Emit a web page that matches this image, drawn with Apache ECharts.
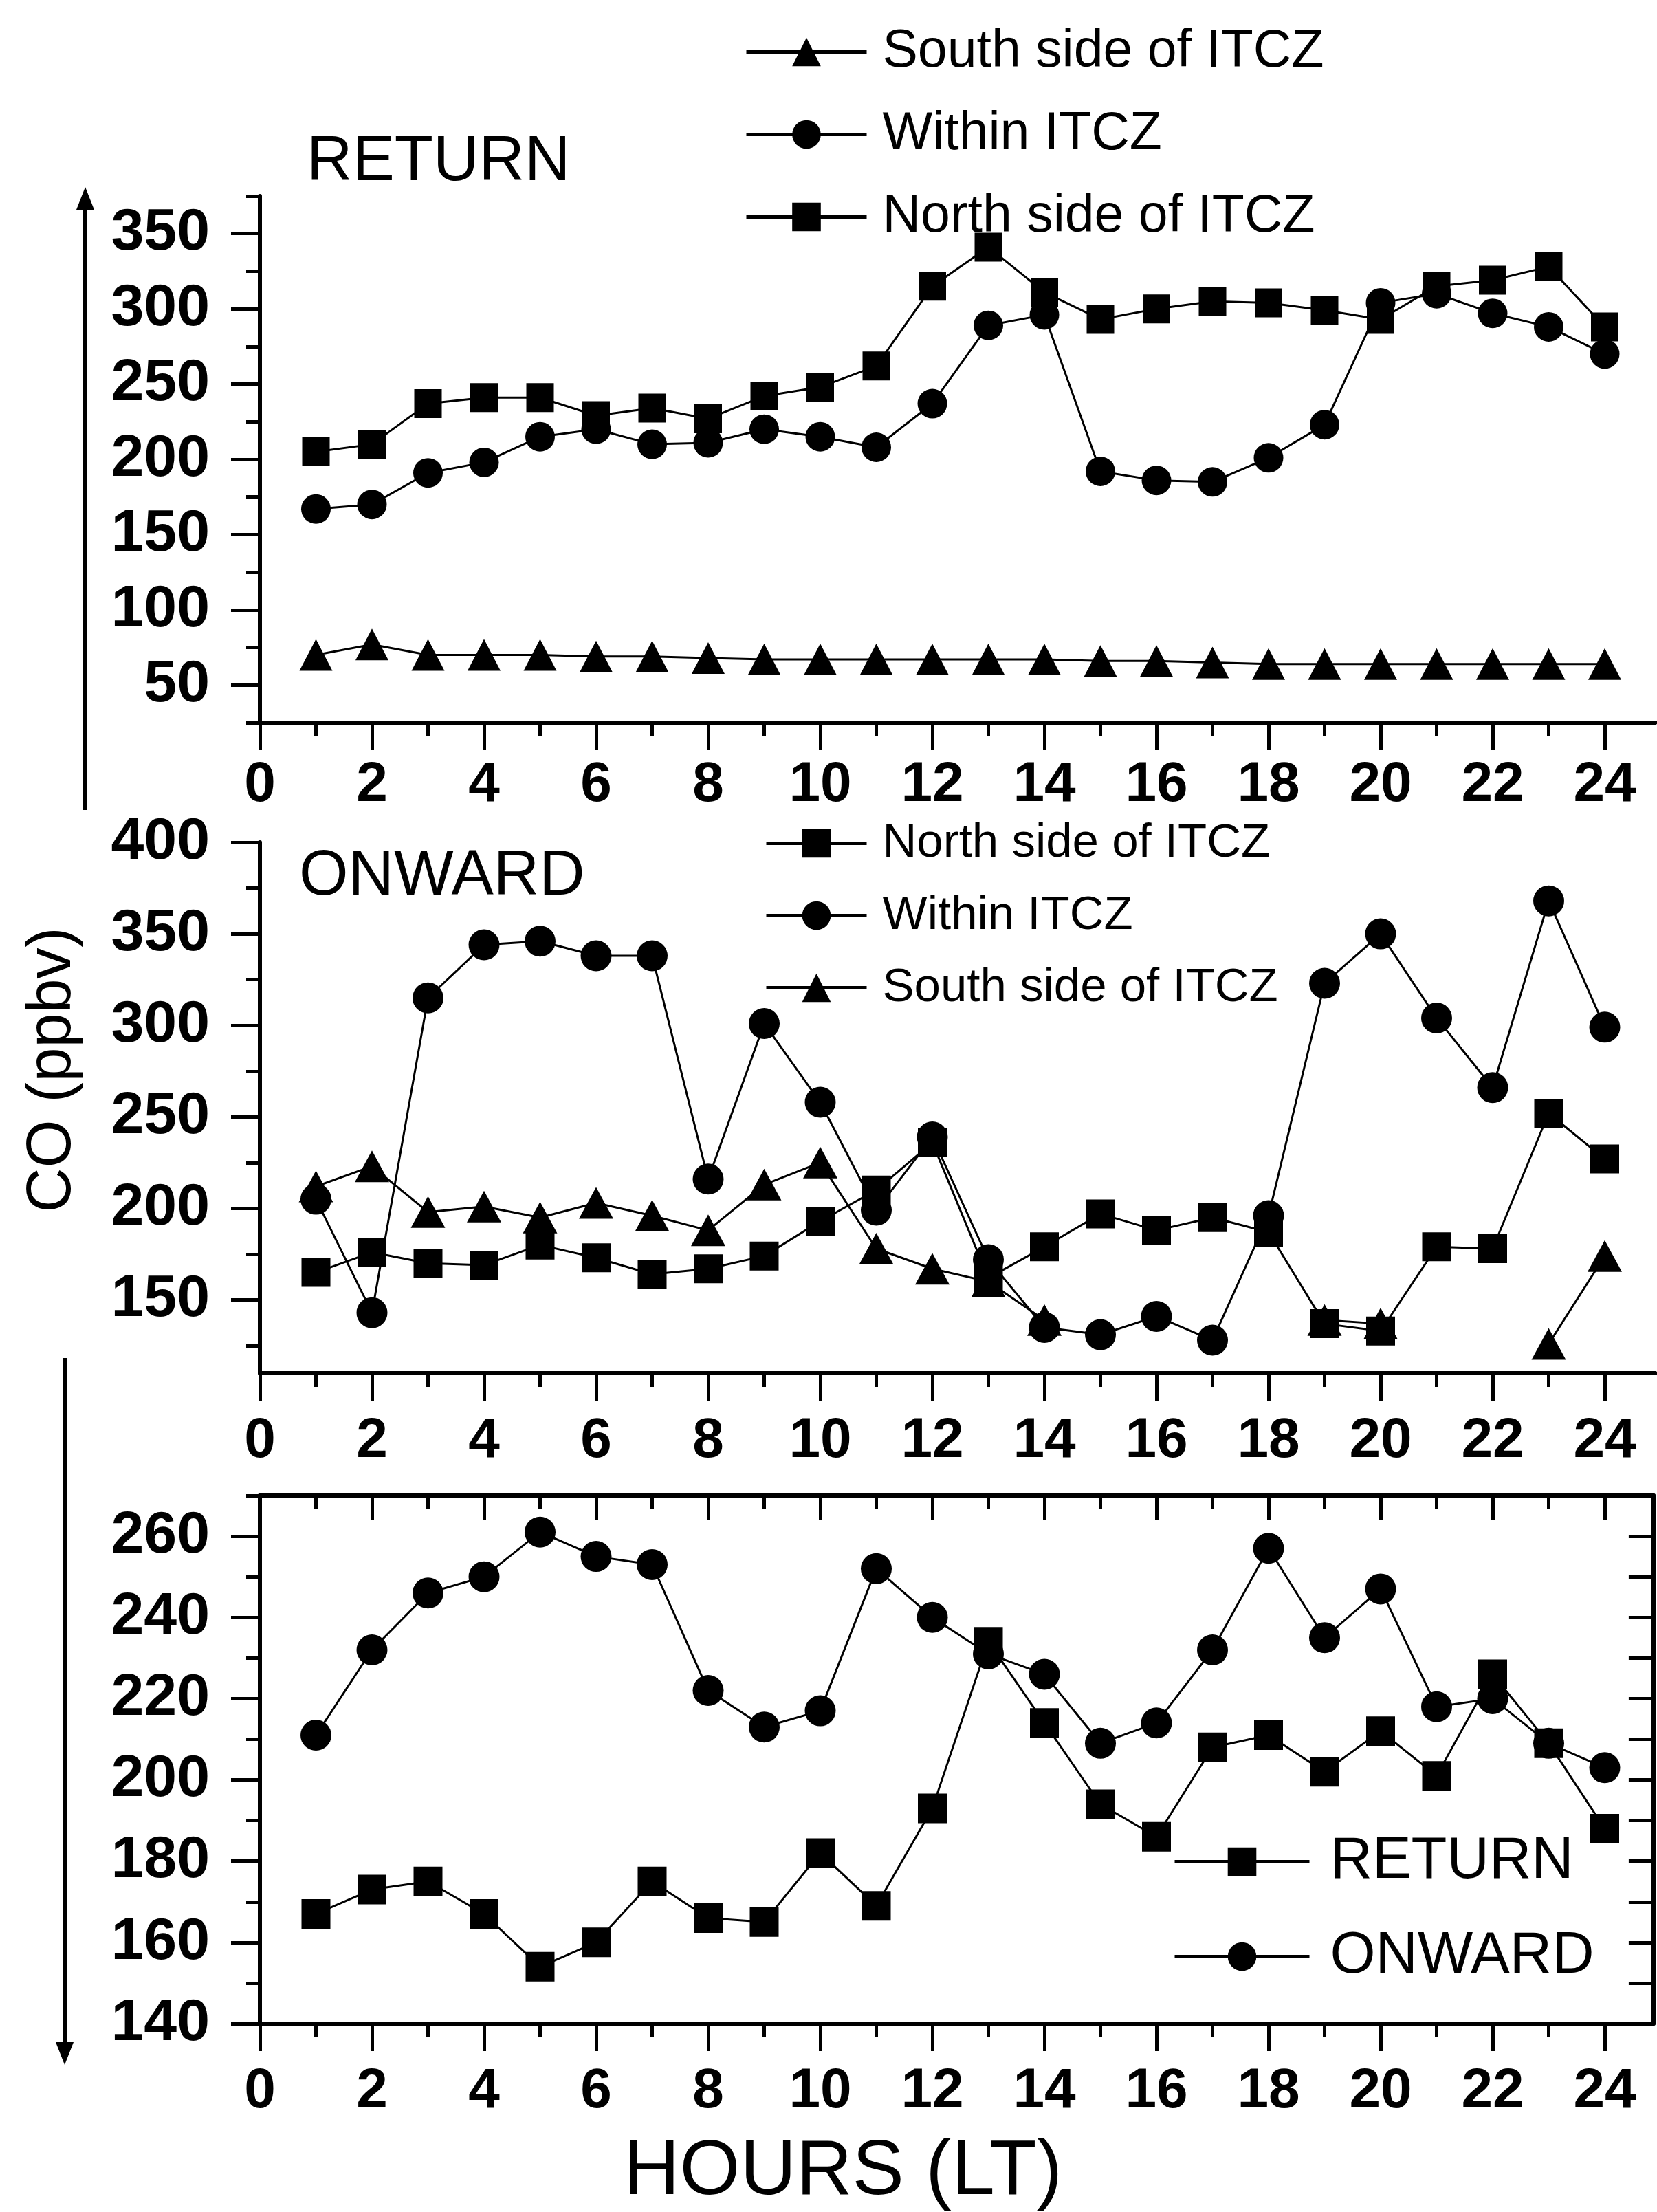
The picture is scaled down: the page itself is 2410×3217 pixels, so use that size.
<!DOCTYPE html>
<html>
<head>
<meta charset="utf-8">
<title>CO diurnal variation - RETURN / ONWARD</title>
<script src="https://cdn.jsdelivr.net/npm/echarts@6.0.0/dist/echarts.min.js"></script>
<style>
  html, body { margin: 0; padding: 0; background: #fff; }
  #chart { width: 2410px; height: 3217px; }
</style>
</head>
<body>
<div id="chart"></div>
<script>

// hours of the day (LT)
const hours = [1, 2, 3, 4, 5, 6, 7, 8, 9, 10, 11, 12, 13, 14, 15, 16, 17, 18, 19, 20, 21, 22, 23, 24];

// RETURN leg (top panel)
const returnSouth  = [70, 77, 70, 70, 70, 69, 69, 68, 67, 67, 67, 67, 67, 67, 66, 66, 65, 64, 64, 64, 64, 64, 64, 64];
const returnWithin = [167, 170, 191, 198, 215, 220, 210, 211, 220, 215, 208, 237, 289, 296, 192, 186, 185, 201, 223, 304, 310, 297, 288, 270];
const returnNorth  = [205, 210, 237, 241, 241, 229, 234, 227, 242, 248, 262, 315, 341, 311, 293, 300, 305, 304, 299, 293, 315, 319, 328, 288];

// ONWARD leg (middle panel), null = no measurement
const onwardNorth  = [165, 176, 170, 169, 180, 173, 164, 167, 174, 193, 210, 236, 162, 179, 197, 188, 195, 187, 137, 133, 179, 178, 252, 227];
const onwardWithin = [205, 143, 315, 344, 346, 338, 338, 216, 301, 258, 199, 239, 172, 135, 131, 141, 128, 196, 323, 350, 304, 266, 368, 299];
const onwardSouth  = [212, 223, 198, 201, 195, 203, 196, 188, 213, 225, 178, 167, 160, 139, null, null, null, null, 139, 137, null, null, 126, 174];

// whole-leg averages (bottom panel)
const meanReturn = [167, 173, 175, 167, 154, 160, 175, 166, 165, 182, 169, 193, 234, 214, 194, 186, 208, 211, 202, 212, 201, 226, 209, 188];
const meanOnward = [211, 232, 246, 250, 261, 255, 253, 222, 213, 217, 252, 240, 231, 226, 209, 214, 232, 257, 235, 247, 218, 220, 209, 203];

// tick labels
const hourTicks = [0, 2, 4, 6, 8, 10, 12, 14, 16, 18, 20, 22, 24];
const hourMinorTicks = [1, 3, 5, 7, 9, 11, 13, 15, 17, 19, 21, 23];
const returnTicks = [50, 100, 150, 200, 250, 300, 350];
const onwardTicks = [150, 200, 250, 300, 350, 400];
const meanTicks = [140, 160, 180, 200, 220, 240, 260];

const FONT = "Liberation Sans";
const HOUR_PX = 81.5;
const LEFT = 378;

function pairs(values) {
    return hours.map(function (h, i) { return [h, values[i]]; });
}

function lineSeries(name, values, symbol, size, axisIndex) {
    return {
        name: name,
        type: "line",
        xAxisIndex: axisIndex,
        yAxisIndex: axisIndex,
        data: pairs(values),
        symbol: symbol,
        symbolSize: size,
        connectNulls: false,
        showAllSymbol: true,
        animation: false,
        lineStyle: { color: "#000", width: 3 },
        itemStyle: { color: "#000" }
    };
}

function xAxes(grid, xMax, margin, position, showLabels, inside) {
    const major = {
        type: "value", gridIndex: grid, position: position, min: 0, max: xMax,
        axisLine: { show: true, onZero: false, lineStyle: { color: "#000", width: 6 } },
        axisTick: { show: true, inside: inside, length: inside ? 36 : 40, customValues: hourTicks,
                    lineStyle: { color: "#000", width: 5 } },
        axisLabel: { show: showLabels, customValues: hourTicks, margin: margin, color: "#000",
                     fontFamily: FONT, fontSize: 82, fontWeight: "bold" },
        splitLine: { show: false }
    };
    const minor = {
        type: "value", gridIndex: grid, position: position, min: 0, max: xMax,
        axisLine: { show: false, onZero: false },
        axisTick: { show: true, inside: inside, length: 20, customValues: hourMinorTicks,
                    lineStyle: { color: "#000", width: 5 } },
        axisLabel: { show: false },
        splitLine: { show: false }
    };
    return [major, minor];
}

function yAxes(grid, min, max, ticks, minorTicks) {
    const major = {
        type: "value", gridIndex: grid, position: "left", min: min, max: max,
        axisLine: { show: true, onZero: false, lineStyle: { color: "#000", width: 6 } },
        axisTick: { show: true, length: 42, customValues: ticks, lineStyle: { color: "#000", width: 5 } },
        axisLabel: { customValues: ticks, margin: 73, color: "#000", fontFamily: FONT,
                     fontSize: 86, fontWeight: "bold", padding: [0, 0, 38, 0] },
        splitLine: { show: false }
    };
    const minor = {
        type: "value", gridIndex: grid, position: "left", min: min, max: max,
        axisLine: { show: false, onZero: false },
        axisTick: { show: true, length: 20, customValues: minorTicks, lineStyle: { color: "#000", width: 5 } },
        axisLabel: { show: false },
        splitLine: { show: false }
    };
    return [major, minor];
}

function legend(names, left, top, itemWidth, gap, fontSize, textPad) {
    return {
        data: names, orient: "vertical", left: left, top: top,
        itemWidth: itemWidth, itemHeight: 52, itemGap: gap,
        selectedMode: false,
        lineStyle: { width: 5 },
        textStyle: { color: "#000", fontFamily: FONT, fontSize: fontSize, padding: [0, 0, 0, textPad] }
    };
}

function text(str, x, y, size, align, rotation) {
    return {
        type: "text", x: x, y: y, rotation: rotation || 0,
        style: { text: str, fill: "#000", font: size + "px '" + FONT + "'",
                 textAlign: align, textVerticalAlign: "middle" }
    };
}

const x1Max = 24.9, x2Max = 24.9, x3Max = 24.87;

const meanMinor = meanTicks.map(function (v) { return v + 10; });
const xAxisList = []
    .concat(xAxes(0, x1Max, 50, "bottom", true, false))
    .concat(xAxes(1, x2Max, 58, "bottom", true, false))
    .concat(xAxes(2, x3Max, 58, "bottom", true, false))
    .concat(xAxes(2, x3Max, 0, "top", false, true));

const yAxisList = []
    .concat(yAxes(0, 25, 375, returnTicks, returnTicks.map(function (v) { return v - 25; }).concat([375])))
    .concat(yAxes(1, 110, 400, onwardTicks, onwardTicks.map(function (v) { return v - 25; })))
    .concat(yAxes(2, 140, 270, meanTicks, meanMinor));

// right-hand frame of the bottom panel, ticks pointing inwards
yAxisList.push({
    type: "value", gridIndex: 2, position: "right", min: 140, max: 270,
    axisLine: { show: true, onZero: false, lineStyle: { color: "#000", width: 6 } },
    axisTick: { show: true, inside: true, length: 36, customValues: meanTicks.concat(meanMinor),
                lineStyle: { color: "#000", width: 5 } },
    axisLabel: { show: false },
    splitLine: { show: false }
});

const option = {
    backgroundColor: "#fff",
    animation: false,
    grid: [
        { left: LEFT, top: 285, width: x1Max * HOUR_PX, height: 766 },
        { left: LEFT, top: 1225, width: x2Max * HOUR_PX, height: 772 },
        { left: LEFT, top: 2175, width: x3Max * HOUR_PX, height: 768 }
    ],
    xAxis: xAxisList,
    yAxis: yAxisList,
    legend: [
        legend(["South side of ITCZ", "Within ITCZ", "North side of ITCZ"], 1078, 32, 175, 43, 77, 18),
        legend(["North side of ITCZ", "Within ITCZ", "South side of ITCZ"], 1107, 1187, 146, 36, 69, 18),
        legend(["RETURN", "ONWARD"], 1701, 2660, 196, 53, 85, 25)
    ],
    series: [
        lineSeries("South side of ITCZ", returnSouth, "triangle", [48, 46], 0),
        lineSeries("Within ITCZ", returnWithin, "circle", 43, 0),
        lineSeries("North side of ITCZ", returnNorth, "rect", [40, 42], 0),

        lineSeries("North side of ITCZ", onwardNorth, "rect", [42, 42], 2),
        lineSeries("Within ITCZ", onwardWithin, "circle", 45, 2),
        lineSeries("South side of ITCZ", onwardSouth, "triangle", [50, 46], 2),

        lineSeries("RETURN", meanReturn, "rect", [42, 43], 4),
        lineSeries("ONWARD", meanOnward, "circle", 45, 4)
    ],
    graphic: [
        text("RETURN", 446, 237, 92, "left"),
        text("ONWARD", 435, 1276, 92, "left"),
        text("CO (ppbv)", 77, 1556, 90, "center", Math.PI / 2),
        text("HOURS (LT)", 1226, 3160, 113, "center"),
        // long double arrow along the left edge
        { type: "line", shape: { x1: 124, y1: 295, x2: 124, y2: 1178 }, style: { stroke: "#000", lineWidth: 6 } },
        { type: "polygon", shape: { points: [[124, 272], [111, 305], [137, 305]] }, style: { fill: "#000" } },
        { type: "line", shape: { x1: 94, y1: 1975, x2: 94, y2: 2980 }, style: { stroke: "#000", lineWidth: 6 } },
        { type: "polygon", shape: { points: [[94, 3003], [81, 2970], [107, 2970]] }, style: { fill: "#000" } }
    ]
};

const chart = echarts.init(document.getElementById("chart"), null, { renderer: "canvas" });
chart.setOption(option);

</script>
</body>
</html>
